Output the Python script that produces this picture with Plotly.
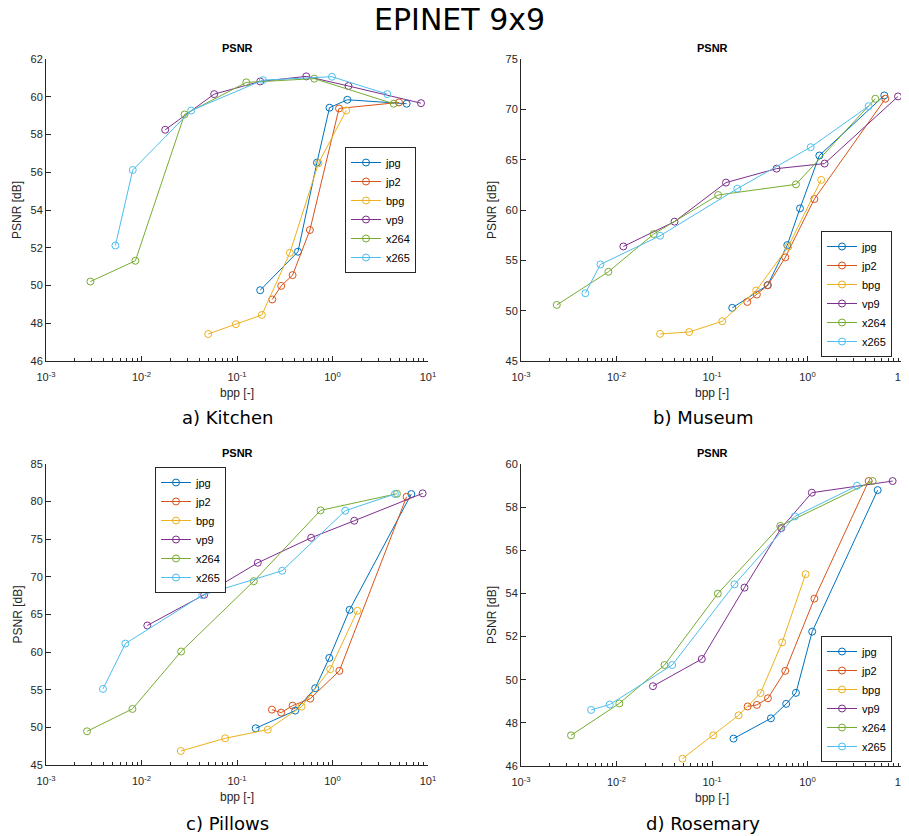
import plotly.graph_objects as go

W, H = 909, 836
OFF = 8  # page body margin: figure is drawn 8px right/down in the window

codecs = ["jpg", "jp2", "bpg", "vp9", "x264", "x265"]
colors = ["#0072BD", "#D95319", "#EDB120", "#7E2F8E", "#77AC30", "#4DBEEE"]

# ---- a) Kitchen ----
kitchen_bpp = {
    "jpg":  [0.175, 0.435, 0.687, 0.93, 1.43, 5.97],
    "jp2":  [0.234, 0.290, 0.382, 0.58, 1.17, 4.97],
    "bpg":  [0.0499, 0.0973, 0.182, 0.358, 0.714, 1.39],
    "vp9":  [0.0177, 0.0577, 0.175, 0.531, 1.47, 8.45],
    "x264": [0.00292, 0.00863, 0.0282, 0.125, 0.644, 4.37],
    "x265": [0.00533, 0.0081, 0.0331, 0.187, 0.986, 3.75],
}
kitchen_psnr = {
    "jpg":  [49.75, 51.79, 56.51, 59.42, 59.84, 59.63],
    "jp2":  [49.26, 49.98, 50.55, 52.94, 59.38, 59.70],
    "bpg":  [47.43, 47.95, 48.44, 51.73, 56.48, 59.27],
    "vp9":  [58.25, 60.14, 60.81, 61.08, 60.57, 59.66],
    "x264": [50.21, 51.31, 59.06, 60.76, 60.96, 59.63],
    "x265": [52.12, 56.12, 59.27, 60.88, 61.06, 60.14],
}

# ---- b) Museum ----
museum_bpp = {
    "jpg":  [0.163, 0.382, 0.614, 0.834, 1.33, 6.37],
    "jp2":  [0.234, 0.295, 0.385, 0.585, 1.18, 6.53],
    "bpg":  [0.0286, 0.0577, 0.128, 0.290, 0.628, 1.39],
    "vp9":  [0.0118, 0.0405, 0.140, 0.474, 1.51, 8.87],
    "x264": [0.00237, 0.00822, 0.0245, 0.116, 0.757, 5.13],
    "x265": [0.00472, 0.00678, 0.0286, 0.184, 1.08, 4.37],
}
museum_psnr = {
    "jpg":  [50.28, 52.53, 56.51, 60.16, 65.41, 71.38],
    "jp2":  [50.87, 51.60, 52.53, 55.29, 61.09, 71.05],
    "bpg":  [47.69, 47.88, 48.95, 52.00, 56.35, 62.99],
    "vp9":  [56.38, 58.84, 62.72, 64.11, 64.61, 71.28],
    "x264": [50.57, 53.86, 57.61, 61.49, 62.55, 71.05],
    "x265": [51.73, 54.59, 57.44, 62.12, 66.24, 70.32],
}

# ---- c) Pillows ----
pillows_bpp = {
    "jpg":  [0.157, 0.407, 0.659, 0.925, 1.51, 6.69],
    "jp2":  [0.232, 0.290, 0.382, 0.585, 1.18, 5.97],
    "bpg":  [0.0258, 0.0752, 0.210, 0.474, 0.946, 1.82],
    "vp9":  [0.0115, 0.0453, 0.165, 0.598, 1.69, 8.79],
    "x264": [0.00269, 0.00804, 0.026, 0.150, 0.750, 4.73],
    "x265": [0.00395, 0.00678, 0.0432, 0.297, 1.36, 4.51],
}
pillows_psnr = {
    "jpg":  [49.88, 52.23, 55.20, 59.23, 65.62, 81.01],
    "jp2":  [52.36, 51.96, 52.89, 53.82, 57.51, 80.65],
    "bpg":  [46.86, 48.55, 49.70, 52.76, 57.73, 65.49],
    "vp9":  [63.54, 67.62, 71.87, 75.20, 77.46, 81.10],
    "x264": [49.48, 52.45, 60.08, 69.43, 78.84, 81.05],
    "x265": [55.11, 61.14, 67.57, 70.81, 78.79, 81.01],
}

# ---- d) Rosemary ----
rosemary_bpp = {
    "jpg":  [0.168, 0.414, 0.598, 0.757, 1.12, 5.43],
    "jp2":  [0.236, 0.295, 0.385, 0.585, 1.18, 4.37],
    "bpg":  [0.0491, 0.103, 0.190, 0.322, 0.543, 0.955],
    "vp9":  [0.0241, 0.0782, 0.219, 0.531, 1.11, 7.79],
    "x264": [0.00334, 0.0107, 0.0318, 0.115, 0.518, 4.81],
    "x265": [0.00542, 0.0085, 0.0383, 0.172, 0.738, 3.30],
}
rosemary_psnr = {
    "jpg":  [47.27, 48.21, 48.88, 49.39, 52.23, 58.79],
    "jp2":  [48.76, 48.83, 49.14, 50.41, 53.76, 59.21],
    "bpg":  [46.34, 47.42, 48.35, 49.38, 51.73, 54.89],
    "vp9":  [49.70, 50.96, 54.27, 57.03, 58.67, 59.21],
    "x264": [47.42, 48.90, 50.68, 53.99, 57.13, 59.21],
    "x265": [48.60, 48.85, 50.68, 54.42, 57.57, 58.99],
}

panels = [
    ("a) Kitchen", kitchen_bpp, kitchen_psnr, [46, 62], 2),
    ("b) Museum", museum_bpp, museum_psnr, [45, 75], 5),
    ("c) Pillows", pillows_bpp, pillows_psnr, [45, 85], 5),
    ("d) Rosemary", rosemary_bpp, rosemary_psnr, [46, 60], 2),
]

x_tickvals = [0.001, 0.01, 0.1, 1, 10]
x_ticktext = ["10<sup>-3</sup>", "10<sup>-2</sup>", "10<sup>-1</sup>", "10<sup>0</sup>", "10<sup>1</sup>"]

# layout geometry in window pixels (left, right, top, bottom)
boxes = [(46, 428, 59, 361), (521, 903, 59, 361), (46, 428, 464, 765), (521, 903, 464, 766)]
legend_pos = [(345, 210, "middle"), (821, 357, "bottom"), (155, 467, "top"), (821, 762, "bottom")]
caption_pos = [(227, 417), (703, 417), (227, 823), (703, 823)]


def px(xw):
    return (xw - OFF) / W


def py(yw):
    return 1 - (yw - OFF) / H


AX = "#262626"
FONT = "Liberation Sans, Arial, sans-serif"

minor_vals = [m * 10.0 ** e for e in range(-3, 1) for m in range(2, 10)]

fig = go.Figure()
annotations = []
layout = {}

for i, (caption, bpp, psnr, yr, ydt) in enumerate(panels):
    n = i + 1
    xa = "x" if n == 1 else f"x{n}"
    ya = "y" if n == 1 else f"y{n}"
    lg = "legend" if n == 1 else f"legend{n}"
    for c, col in zip(codecs, colors):
        fig.add_trace(go.Scatter(
            x=bpp[c], y=psnr[c], name=c, mode="lines+markers",
            line=dict(color=col, width=1),
            marker=dict(symbol="circle-open", size=7, color=col, line=dict(width=1, color=col)),
            xaxis=xa, yaxis=ya, legend=lg,
        ))
    l, r, t, b = boxes[i]
    xkey = "xaxis" if n == 1 else f"xaxis{n}"
    ykey = "yaxis" if n == 1 else f"yaxis{n}"
    layout[xkey] = dict(
        type="log", range=[-3, 1], domain=[px(l), px(r)], anchor=ya, automargin=False,
        tickmode="array", tickvals=x_tickvals, ticktext=x_ticktext,
        ticks="inside", ticklen=5, tickcolor=AX, showline=True, linecolor=AX,
        showgrid=False, zeroline=False, mirror=False, ticklabelstandoff=6,
        tickfont=dict(family=FONT, size=11, color=AX),
        minor=dict(tickmode="array", tickvals=minor_vals, ticks="inside", ticklen=3,
                   tickcolor=AX, showgrid=False),
    )
    layout[ykey] = dict(
        range=yr, dtick=ydt, domain=[py(b), py(t)], anchor=xa, automargin=False,
        ticks="inside", ticklen=5, tickcolor=AX, showline=True, linecolor=AX,
        showgrid=False, zeroline=False, mirror=False,
        tickfont=dict(family=FONT, size=11, color=AX),
    )
    lx, ly, yanc = legend_pos[i]
    layout[lg] = dict(
        x=px(lx), y=py(ly), xanchor="left", yanchor=yanc,
        bgcolor="white", bordercolor=AX, borderwidth=1,
        font=dict(family=FONT, size=11, color="black"),
        itemwidth=30, tracegroupgap=0,
    )
    cx = (l + r) / 2
    annotations.append(dict(text="<b>PSNR</b>", x=px(cx), y=py(t - 11), xref="paper", yref="paper",
                            showarrow=False, font=dict(family=FONT, size=11, color="black"),
                            xanchor="center", yanchor="middle"))
    annotations.append(dict(text="bpp [-]", x=px(cx), y=py(b + 32), xref="paper", yref="paper",
                            showarrow=False, font=dict(family=FONT, size=12, color=AX),
                            xanchor="center", yanchor="middle"))
    annotations.append(dict(text="PSNR [dB]", x=px(l - 29), y=py((t + b) / 2), xref="paper", yref="paper",
                            showarrow=False, textangle=-90, font=dict(family=FONT, size=12, color=AX),
                            xanchor="center", yanchor="middle"))
    capx, capy = caption_pos[i]
    annotations.append(dict(text=caption, x=px(capx), y=py(capy), xref="paper", yref="paper",
                            showarrow=False, font=dict(family="DejaVu Sans", size=18, color="black"),
                            xanchor="center", yanchor="middle"))

annotations.append(dict(text="EPINET 9x9", x=px(459), y=py(20), xref="paper", yref="paper",
                        showarrow=False, font=dict(family="DejaVu Sans", size=30, color="black"),
                        xanchor="center", yanchor="middle"))

fig.update_layout(
    width=W, height=H, margin=dict(l=0, r=0, t=0, b=0, autoexpand=False),
    paper_bgcolor="white", plot_bgcolor="white",
    annotations=annotations, **layout,
)

fig.write_html("out.html")
